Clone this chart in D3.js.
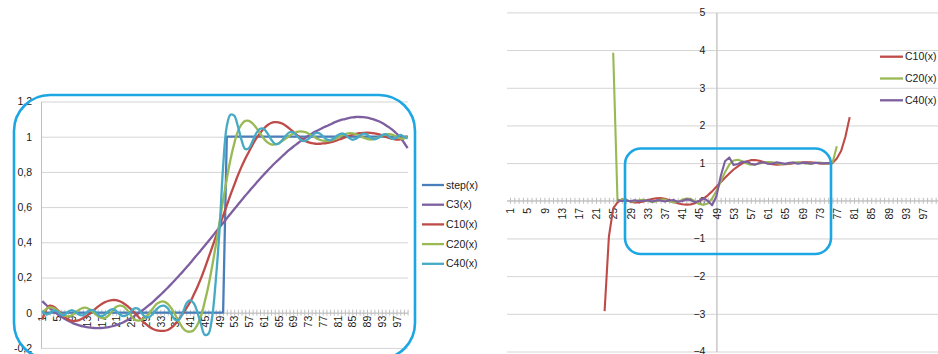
<!DOCTYPE html>
<html>
<head>
<meta charset="utf-8">
<script src="https://cdn.jsdelivr.net/npm/d3@7/dist/d3.min.js"></script>
<style>
  html, body { margin: 0; padding: 0; background: #fff; }
  svg { display: block; font-family: "Liberation Sans", Arial, sans-serif; }
  .lbl { font-size: 10.5px; fill: #1a1a1a; }
</style>
</head>
<body>
<svg id="chart" width="938" height="354"></svg>
<script>
// ---------- data ----------
const categories = d3.range(1, 101);
const xTickLabels = [1, 5, 9, 13, 17, 21, 25, 29, 33, 37, 41, 45, 49, 53, 57, 61, 65, 69, 73, 77, 81, 85, 89, 93, 97];

// left panel: step function and its approximations, x = 1..100
const leftYTicks = [-0.2, 0, 0.2, 0.4, 0.6, 0.8, 1, 1.2];
const leftYLabels = ["-0,2", "0", "0,2", "0,4", "0,6", "0,8", "1", "1,2"];

const step = [
  0,0,0,0,0,0,0,0,0,0, 0,0,0,0,0,0,0,0,0,0, 0,0,0,0,0,0,0,0,0,0, 0,0,0,0,0,0,0,0,0,0,
  0,0,0,0,0,0,0,0,0,0, 1,1,1,1,1,1,1,1,1,1, 1,1,1,1,1,1,1,1,1,1, 1,1,1,1,1,1,1,1,1,1,
  1,1,1,1,1,1,1,1,1,1, 1,1,1,1,1,1,1,1,1,1];

const c3 = [
  0.066,0.045,0.026,0.009,-0.007,-0.021,-0.034,-0.046,-0.056,-0.065,
  -0.072,-0.078,-0.082,-0.085,-0.087,-0.088,-0.087,-0.085,-0.082,-0.077,
  -0.071,-0.063,-0.054,-0.043,-0.031,-0.018,-0.004,0.011,0.027,0.044,
  0.062,0.081,0.101,0.121,0.142,0.164,0.186,0.209,0.232,0.256,
  0.28,0.305,0.33,0.355,0.38,0.406,0.432,0.458,0.484,0.51,
  0.536,0.562,0.588,0.613,0.639,0.664,0.689,0.713,0.737,0.761,
  0.784,0.806,0.828,0.849,0.869,0.889,0.908,0.926,0.943,0.959,
  0.975,0.99,1.004,1.017,1.029,1.04,1.05,1.06,1.069,1.08,
  1.088,1.095,1.1,1.106,1.11,1.112,1.112,1.111,1.108,1.103,
  1.097,1.089,1.079,1.067,1.053,1.037,1.018,0.997,0.967,0.935];

const c10 = [
  -0.04,0.015,0.04,0.035,0.018,-0.002,-0.022,-0.038,-0.046,-0.047,
  -0.042,-0.032,-0.018,-0.002,0.016,0.033,0.048,0.06,0.068,0.072,
  0.071,0.065,0.054,0.039,0.02,-0.001,-0.023,-0.045,-0.064,-0.08,
  -0.093,-0.1,-0.103,-0.103,-0.098,-0.085,-0.065,-0.038,-0.006,0.025,
  0.058,0.1,0.145,0.195,0.25,0.31,0.37,0.43,0.49,0.55,
  0.61,0.67,0.725,0.78,0.83,0.875,0.915,0.955,0.99,1.02,
  1.045,1.065,1.078,1.083,1.082,1.075,1.062,1.046,1.028,1.01,
  0.993,0.979,0.969,0.963,0.96,0.96,0.962,0.964,0.968,0.973,
  0.98,0.988,0.996,1.004,1.011,1.016,1.02,1.022,1.023,1.022,
  1.019,1.014,1.008,1.0,0.993,0.987,0.984,0.985,0.992,1.003];

const c20 = [
  0.0,0.02,0.03,0.027,0.013,-0.005,-0.017,-0.021,-0.015,0.0,
  0.017,0.028,0.028,0.017,0.0,-0.018,-0.03,-0.03,-0.015,0.01,
  0.032,0.04,0.035,0.015,-0.015,-0.04,-0.045,-0.04,-0.025,-0.003,
  0.025,0.05,0.062,0.063,0.05,0.025,-0.012,-0.05,-0.085,-0.104,
  -0.108,-0.1,-0.07,-0.02,0.06,0.15,0.26,0.38,0.51,0.64,
  0.76,0.87,0.96,1.03,1.07,1.09,1.09,1.075,1.05,1.02,
  0.99,0.968,0.957,0.956,0.962,0.975,0.99,1.005,1.018,1.027,
  1.03,1.027,1.02,1.008,0.995,0.984,0.977,0.975,0.977,0.984,
  0.994,1.005,1.014,1.019,1.019,1.014,1.005,0.995,0.987,0.984,
  0.987,0.995,1.005,1.013,1.015,1.01,1.0,0.99,0.99,1.0];

const c40 = [
  0.01,-0.01,-0.005,0.012,0.008,-0.01,-0.012,0.005,0.015,0.005,
  -0.012,-0.015,0.0,0.015,0.012,-0.008,-0.02,-0.01,0.01,0.02,
  0.01,-0.01,-0.02,-0.012,0.008,0.025,0.022,-0.005,-0.025,-0.025,
  -0.005,0.02,0.037,0.04,0.025,-0.01,-0.04,-0.04,-0.005,0.05,
  0.07,0.055,0.005,-0.065,-0.125,-0.12,-0.03,0.18,0.46,0.83,
  1.06,1.125,1.12,1.06,0.98,0.93,0.935,0.975,1.02,1.045,
  1.045,1.02,0.985,0.96,0.96,0.98,1.005,1.025,1.025,1.005,
  0.983,0.975,0.985,1.005,1.02,1.02,1.003,0.985,0.98,0.99,
  1.008,1.018,1.012,0.995,0.983,0.988,1.005,1.017,1.012,0.995,
  0.985,0.992,1.008,1.015,1.0,0.988,0.995,1.01,1.0,0.99];

// right panel: the same approximations evaluated on a wider interval
const rightYTicks = [-4, -3, -2, -1, 0, 1, 2, 3, 4, 5];
const rightC10Start = 23;
const rightC10 = [
  -2.93,-0.95,-0.2,-0.04,
  0.04,0.018,-0.022,-0.046,-0.042,-0.018,0.016,0.048,0.068,0.071,
  0.054,0.02,-0.023,-0.064,-0.093,-0.103,-0.098,-0.065,-0.006,0.058,
  0.145,0.25,0.37,0.49,0.61,0.725,0.83,0.915,0.99,1.045,
  1.078,1.082,1.062,1.028,0.993,0.969,0.96,0.962,0.968,0.98,
  0.996,1.011,1.02,1.023,1.019,1.008,0.993,0.984,0.992,1.003,
  1.12,1.32,1.7,2.22];
const rightC20Start = 25;
const rightC20 = [
  3.93,0.0,
  0.03,0.013,-0.017,-0.015,0.017,0.028,0.0,-0.03,-0.015,0.032,
  0.035,-0.015,-0.045,-0.025,0.025,0.062,0.05,-0.012,-0.085,-0.108,
  -0.07,0.06,0.26,0.51,0.76,0.96,1.07,1.09,1.05,0.99,
  0.957,0.962,0.99,1.018,1.03,1.02,0.995,0.977,0.977,0.994,
  1.014,1.019,1.005,0.987,0.987,1.005,1.015,1.0,0.99,1.0,
  1.45];
const rightC40Start = 26;
const rightC40 = [
  0.01,-0.005,0.008,-0.012,0.015,-0.012,0.0,0.012,-0.02,0.01,
  0.01,-0.02,0.008,0.022,-0.025,-0.005,0.037,0.025,-0.04,-0.005,
  0.07,0.0,-0.12,0.12,0.65,1.05,1.15,0.95,0.975,1.03,
  1.04,0.985,0.96,1.005,1.025,0.983,0.985,1.02,1.003,0.98,
  1.008,1.012,0.983,1.005,1.012,0.985,1.008,1.0,0.995,1.0,
  0.99];

// ---------- drawing ----------
const svg = d3.select("#chart");
const gridColor = "#d4d4d4";
const axisColor = "#bfbfbf";
const frameColor = "#1ca6e3";

function categoryAxis(g, x, y0, labelGap) {
  const ax = d3.axisBottom(x)
    .tickValues(categories)
    .tickSize(0)
    .tickFormat(d => xTickLabels.includes(d) ? d : "");
  g.attr("transform", `translate(0,${y0})`).call(ax);
  g.select(".domain").attr("stroke", axisColor).attr("stroke-width", 1);
  g.selectAll(".tick line").attr("stroke", axisColor).attr("y1", -3).attr("y2", 3);
  g.selectAll(".tick text")
    .attr("class", "lbl")
    .attr("transform", "rotate(-90)")
    .attr("x", -labelGap).attr("y", 0).attr("dy", "0.35em")
    .style("text-anchor", "end");
}

// ----- left panel -----
const xL = d3.scalePoint().domain(categories).range([42.3, 407.6]);
const yL = d3.scaleLinear().domain([-0.2, 1.2]).range([347.9, 101.5]);
const left = svg.append("g");

left.append("g")
  .attr("transform", "translate(41,0)")
  .call(d3.axisRight(yL).tickValues(leftYTicks).tickSize(367).tickFormat(""))
  .call(g => g.select(".domain").remove())
  .call(g => g.selectAll(".tick line").attr("stroke", gridColor));

left.append("g")
  .attr("transform", "translate(41,0)")
  .call(d3.axisLeft(yL).tickValues(leftYTicks).tickSize(0).tickPadding(9)
    .tickFormat((d, i) => leftYLabels[i]))
  .call(g => g.select(".domain").attr("stroke", axisColor))
  .call(g => g.selectAll(".tick text").attr("class", "lbl").style("text-anchor", "end"));

categoryAxis(left.append("g"), xL, yL(0), 3);

const leftSeries = [
  { name: "step(x)", values: step, color: "#4a7ebb", curve: d3.curveLinear },
  { name: "C3(x)", values: c3, color: "#7d5fa0", curve: d3.curveCatmullRom },
  { name: "C10(x)", values: c10, color: "#be4b48", curve: d3.curveCatmullRom },
  { name: "C20(x)", values: c20, color: "#98b954", curve: d3.curveCatmullRom },
  { name: "C40(x)", values: c40, color: "#46aac5", curve: d3.curveCatmullRom }
];

leftSeries.forEach(s => {
  const line = d3.line().x((d, i) => xL(categories[i])).y(d => yL(d)).curve(s.curve);
  left.append("path").datum(s.values)
    .attr("fill", "none").attr("stroke", s.color).attr("stroke-width", 2.3)
    .attr("stroke-linejoin", "round").attr("d", line);
});

const legL = left.append("g");
leftSeries.forEach((s, i) => {
  const y = 185 + i * 19.7;
  legL.append("line").attr("x1", 422).attr("x2", 444).attr("y1", y).attr("y2", y)
    .attr("stroke", s.color).attr("stroke-width", 2.3);
  legL.append("text").attr("class", "lbl").attr("x", 446).attr("y", y).attr("dy", "0.35em").text(s.name);
});

left.append("rect")
  .attr("x", 14).attr("y", 95).attr("width", 401).attr("height", 264)
  .attr("rx", 36).attr("ry", 36)
  .attr("fill", "none").attr("stroke", frameColor).attr("stroke-width", 2.6);

// ----- right panel -----
const xR = d3.scalePoint().domain(categories).range([510, 935.7]);
const yR = d3.scaleLinear().domain([-4, 5]).range([351.5, 12.4]);
const right = svg.append("g");

right.append("g")
  .attr("transform", "translate(507,0)")
  .call(d3.axisRight(yR).tickValues(rightYTicks).tickSize(431).tickFormat(""))
  .call(g => g.select(".domain").remove())
  .call(g => g.selectAll(".tick line").attr("stroke", gridColor));

right.append("g")
  .attr("transform", `translate(${xR(49)},0)`)
  .call(d3.axisLeft(yR).tickValues(rightYTicks).tickSize(0).tickPadding(11))
  .call(g => g.select(".domain").attr("stroke", "#c8c8c8").attr("stroke-width", 1.5))
  .call(g => g.selectAll(".tick text").attr("class", "lbl").style("text-anchor", "end"));

const rAxis = right.append("g");
categoryAxis(rAxis, xR, yR(0), 7);
rAxis.select(".domain").attr("d", `M507,0H938`);

const rightSeries = [
  { name: "C10(x)", start: rightC10Start, values: rightC10, color: "#be4b48" },
  { name: "C20(x)", start: rightC20Start, values: rightC20, color: "#98b954" },
  { name: "C40(x)", start: rightC40Start, values: rightC40, color: "#7d5fa0" }
];

rightSeries.forEach(s => {
  const line = d3.line().x((d, i) => xR(s.start + i)).y(d => yR(d));
  right.append("path").datum(s.values)
    .attr("fill", "none").attr("stroke", s.color).attr("stroke-width", 2.1)
    .attr("stroke-linejoin", "round").attr("d", line);
});

const legR = right.append("g");
rightSeries.forEach((s, i) => {
  const y = 56.7 + i * 21.8;
  legR.append("line").attr("x1", 880).attr("x2", 903).attr("y1", y).attr("y2", y)
    .attr("stroke", s.color).attr("stroke-width", 2.3);
  legR.append("text").attr("class", "lbl").attr("x", 905).attr("y", y).attr("dy", "0.35em").text(s.name);
});

right.append("rect")
  .attr("x", 625).attr("y", 148.5).attr("width", 206).attr("height", 105.5)
  .attr("rx", 16).attr("ry", 16)
  .attr("fill", "none").attr("stroke", frameColor).attr("stroke-width", 2.6);
</script>
</body>
</html>
